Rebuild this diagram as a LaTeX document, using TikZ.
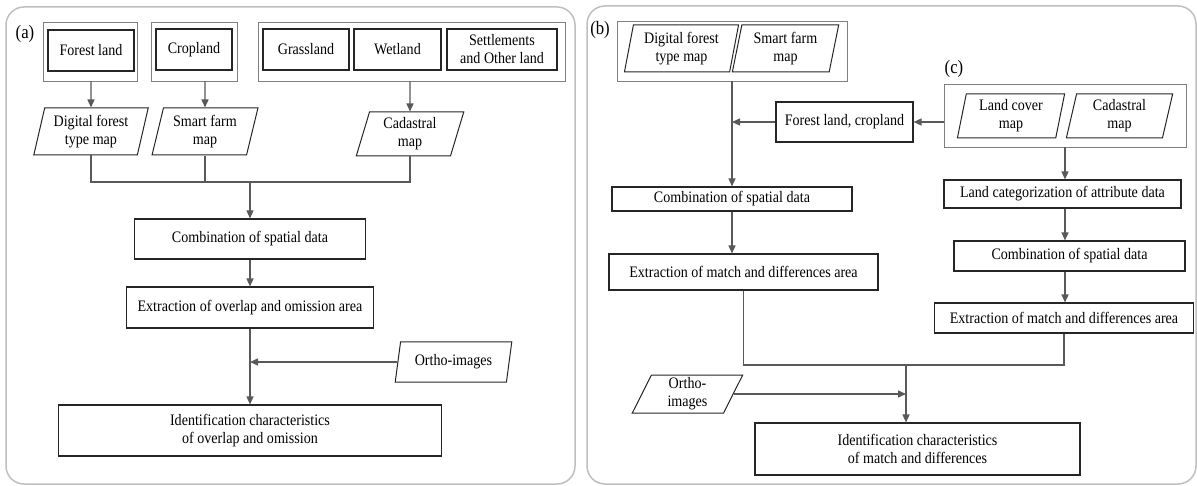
\documentclass[tikz,border=0pt]{standalone}
\usepackage{fontspec}
\setmainfont{Liberation Serif}[FakeStretch=0.88]
\usetikzlibrary{arrows.meta,positioning,shapes.geometric,calc}
\tikzset{
    panel/.style={draw=black!25, line width=1.5pt, rounded corners=18pt},
    group/.style={draw=black!50, line width=0.9pt, inner sep=0pt, minimum height=59pt},
    box/.style={draw=black!85, line width=1.1pt, align=center, inner sep=0pt},
    cat box/.style={box, line width=1.8pt, minimum height=41pt},
    data/.style={trapezium, trapezium left angle=#1, trapezium right angle=180-#1,
        trapezium stretches=true, draw=black!85, line width=1pt, align=center, inner sep=0pt},
    data/.default=75,
    arr/.style={-{Triangle[length=8pt,width=7pt]}, draw=black!65, line width=1.4pt},
    line/.style={draw=black!65, line width=1.4pt},
    tag/.style={font=\fontsize{19}{20}\selectfont},
}
\tikzstyle{every node}=[font=\fontsize{16}{18}\selectfont]

\begin{document}
\begin{tikzpicture}[x=1pt,y=-1pt]
    \useasboundingbox (0,0) rectangle (1197,486);
    \draw[panel] (6,7) rectangle (575,484);
    \draw[panel] (587,6) rectangle (1196,484);

    % panel (a)
    \node[tag] (taga) at (25,34) {(a)};
    \node[group, minimum width=94pt] (ga1) at (90,51.5) {};
    \node[cat box, minimum width=86pt] (forest) at (91,50.5) {Forest land};
    \node[group, minimum width=86pt] (ga2) at (194,51.5) {};
    \node[cat box, minimum width=76pt] (crop) at (194,49.5) {Cropland};
    \node[group, minimum width=307pt] (ga3) at (411.5,51.5) {};
    \node[cat box, minimum width=86pt] (grass) at (306,49.5) {Grassland};
    \node[cat box, minimum width=87pt] (wet) at (397.5,49.5) {Wetland};
    \node[cat box, minimum width=110pt] (settle) at (502,49.5) {Settlements\\and Other land};

    \node[data, minimum width=115pt, minimum height=47pt] (dfm) at (91,131.5) {Digital forest\\type map};
    \node[data, minimum width=106pt, minimum height=47pt] (sfm) at (205,131.5) {Smart farm\\map};
    \node[data, minimum width=108pt, minimum height=44pt] (cad) at (410,134) {Cadastral\\map};
    \coordinate (ja) at (250,182);

    \node[box, minimum width=231pt, minimum height=40pt] (comba) at (250,239) {Combination of spatial data};
    \node[box, minimum width=247pt, minimum height=41pt] (exta) at (250,307.5) {Extraction of overlap and omission area};
    \node[data, minimum width=117pt, minimum height=40pt] (orthoa) at (453.5,362) {Ortho-images};
    \node[box, minimum width=383pt, minimum height=51pt] (idena) at (250,430.5) {Identification characteristics\\of overlap and omission};

    \draw[arr] (dfm |- ga1.south) -- (dfm.north);
    \draw[arr] (sfm |- ga2.south) -- (sfm.north);
    \draw[arr] (cad |- ga3.south) -- (cad.north);
    \draw[line] (dfm.south) |- (ja) -| (cad.south);
    \draw[line] (sfm.south) -- (sfm.south |- ja);
    \draw[arr] (ja) -- (comba.north);
    \draw[arr] (comba) -- (exta);
    \draw[arr] (exta) -- (idena);
    \draw[arr] (orthoa.west) -- (orthoa.west -| exta.south);

    % panel (b)
    \node[tag] (tagb) at (600,30) {(b)};
    \node[group, minimum width=230pt, minimum height=60pt] (gb) at (732,51) {};
    \node[data=78, minimum width=115pt, minimum height=47pt] (dfmb) at (681.5,48.5) {Digital forest\\type map};
    \node[data=78, minimum width=107pt, minimum height=47pt] (sfmb) at (785.5,48.5) {Smart farm\\map};
    \node[box, minimum width=137pt, minimum height=40pt] (fcl) at (844.5,122) {Forest land, cropland};
    \node[box, minimum width=240pt, minimum height=24pt] (combb) at (732,199) {Combination of spatial data};
    \node[box, minimum width=269pt, minimum height=36pt] (extb) at (743.5,272) {Extraction of match and differences area};
    \coordinate (jb) at (906,365);
    \node[data=72, minimum width=111pt, minimum height=38pt] (orthob) at (687.5,394) {Ortho-\\images};
    \node[box, minimum width=325pt, minimum height=52pt] (idenb) at (917.5,449) {Identification characteristics\\of match and differences};

    % panel (c)
    \node[tag] (tagc) at (954,69) {(c)};
    \node[group, minimum width=242pt, minimum height=63pt] (gc) at (1065,115.5) {};
    \node[data=79, minimum width=108pt, minimum height=44pt] (lcm) at (1011,116) {Land cover\\map};
    \node[data=79, minimum width=107pt, minimum height=44pt] (cadc) at (1119.5,116) {Cadastral\\map};
    \node[box, minimum width=237pt, minimum height=28pt] (lcat) at (1062.5,194) {Land categorization of attribute data};
    \node[box, minimum width=231pt, minimum height=30pt] (combc) at (1069.5,256) {Combination of spatial data};
    \node[box, minimum width=259pt, minimum height=30pt] (extc) at (1064,318) {Extraction of match and differences area};

    \draw[arr] (gc.west |- fcl) -- (fcl.east);
    \draw[arr] (fcl.west) -- (fcl.west -| gb.south);
    \draw[arr] (gb.south) -- (combb.north);
    \draw[arr] (combb.south) -- (combb.south |- extb.north);
    \draw[arr] (gc.south) -- (gc.south |- lcat.north);
    \draw[arr] (lcat.south -| gc.south) -- (combc.north -| gc.south);
    \draw[arr] (combc.south -| gc.south) -- (extc.north -| gc.south);
    \draw[line] (extb.south) |- (jb) -| (extc.south);
    \draw[arr] (jb) -- (jb |- idenb.north);
    \draw[arr] (orthob.east) -- (orthob.east -| jb);
\end{tikzpicture}
\end{document}
